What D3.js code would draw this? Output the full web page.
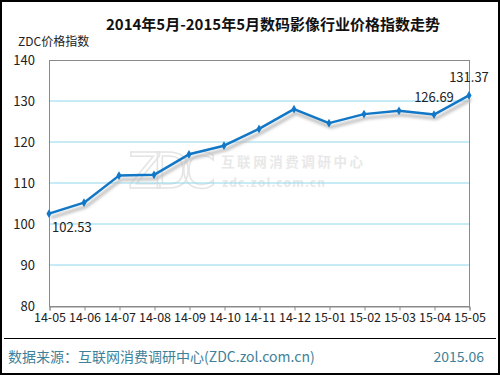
<!DOCTYPE html>
<html>
<head>
<meta charset="utf-8">
<script src="https://cdn.jsdelivr.net/npm/d3@7"></script>
<style>
  body { margin: 0; background: #fff; }
  svg { display: block; }
</style>
</head>
<body>
<div id="chart"></div>
<script>
// chart data
const months = ["14-05", "14-06", "14-07", "14-08", "14-09", "14-10", "14-11",
  "14-12", "15-01", "15-02", "15-03", "15-04", "15-05"];
const priceIndex = [102.53, 105.2, 111.8, 112.0, 117.0, 119.1, 123.2,
  128.0, 124.6, 126.8, 127.6, 126.69, 131.37];
const yTicks = [80, 90, 100, 110, 120, 130, 140];
const labelled = ["14-05", "15-04", "15-05"];

const width = 500;
const height = 375;
const margin = { top: 60, right: 31, bottom: 69, left: 49 };
const font = "'Noto Sans CJK SC', 'Noto Sans', sans-serif";

const svg = d3.select("#chart").append("svg")
  .attr("width", width)
  .attr("height", height);

svg.append("rect")
  .attr("x", 1).attr("y", 1)
  .attr("width", width - 2).attr("height", height - 2)
  .attr("fill", "#fff")
  .attr("stroke", "#000")
  .attr("stroke-width", 2);

const x = d3.scalePoint()
  .domain(months)
  .range([margin.left, width - margin.right]);

const y = d3.scaleLinear()
  .domain([80, 140])
  .range([height - margin.bottom, margin.top]);

// watermark
const wm = svg.append("g").attr("fill", "#e8e8e8");
wm.append("text")
  .attr("x", 128).attr("y", 188)
  .attr("font-family", "'DejaVu Sans', sans-serif")
  .attr("font-size", 50)
  .attr("fill", "none")
  .attr("stroke", "#e4e4e4")
  .attr("stroke-width", 1.5)
  .attr("textLength", 88)
  .text("ZDC");
wm.append("text")
  .attr("x", 221).attr("y", 167)
  .attr("font-family", font)
  .attr("font-size", 13.5)
  .attr("font-weight", "bold")
  .attr("textLength", 142)
  .text("互联网消费调研中心");
wm.append("text")
  .attr("x", 222).attr("y", 187)
  .attr("font-family", font)
  .attr("font-size", 12)
  .attr("font-weight", "bold")
  .attr("textLength", 103)
  .text("zdc.zol.com.cn");

// grid lines
svg.append("g")
  .selectAll("line")
  .data(yTicks.filter((d) => d > 80 && d < 140))
  .join("line")
  .attr("x1", margin.left)
  .attr("x2", width - margin.right)
  .attr("y1", (d) => y(d))
  .attr("y2", (d) => y(d))
  .attr("stroke", "#8fd8ec")
  .attr("stroke-width", 1);

// plot frame
svg.append("rect")
  .attr("x", margin.left + 0.5)
  .attr("y", y(140) + 0.5)
  .attr("width", x("15-05") - x("14-05"))
  .attr("height", y(80) - y(140))
  .attr("fill", "none")
  .attr("stroke", "#8a8a8a");

// x axis
const xAxis = svg.append("g")
  .attr("transform", `translate(0.5,${y(80) + 0.5})`)
  .call(d3.axisBottom(x).tickSize(4).tickPadding(3));
xAxis.select(".domain").attr("stroke", "#8a8a8a");
xAxis.selectAll(".tick line").attr("stroke", "#8a8a8a");
xAxis.selectAll("text")
  .attr("font-family", font)
  .attr("font-size", 12.5)
  .attr("fill", "#222");

// y axis labels
svg.append("g")
  .selectAll("text")
  .data(yTicks)
  .join("text")
  .attr("x", 35)
  .attr("y", (d) => y(d) + 4.5)
  .attr("text-anchor", "end")
  .attr("font-family", font)
  .attr("font-size", 13)
  .attr("fill", "#222")
  .text((d) => d);

const points = months.map((m, i) => ({ month: m, value: priceIndex[i] }));

const line = d3.line()
  .x((d) => x(d.month))
  .y((d) => y(d.value));

// soft shadow under the line
const defs = svg.append("defs");
defs.append("filter")
  .attr("id", "blur")
  .append("feGaussianBlur")
  .attr("stdDeviation", 1.5);

svg.append("path")
  .datum(points)
  .attr("fill", "none")
  .attr("stroke", "#bbbbbb")
  .attr("stroke-width", 3)
  .attr("filter", "url(#blur)")
  .attr("transform", "translate(2,4)")
  .attr("d", line);

svg.append("path")
  .datum(points)
  .attr("fill", "none")
  .attr("stroke", "#1177c6")
  .attr("stroke-width", 2.5)
  .attr("stroke-linejoin", "round")
  .attr("d", line);

svg.append("g")
  .selectAll("path")
  .data(points)
  .join("path")
  .attr("transform", (d) => `translate(${x(d.month)},${y(d.value)})`)
  .attr("d", d3.symbol(d3.symbolDiamond, 22))
  .attr("fill", "#1177c6");

// value labels
const labelPos = {
  "14-05": { dx: 3, dy: 18, anchor: "start" },
  "15-04": { dx: 0, dy: -13, anchor: "middle" },
  "15-05": { dx: 0, dy: -13, anchor: "middle" },
};
svg.append("g")
  .selectAll("text")
  .data(points.filter((d) => labelled.includes(d.month)))
  .join("text")
  .attr("x", (d) => x(d.month) + labelPos[d.month].dx)
  .attr("y", (d) => y(d.value) + labelPos[d.month].dy)
  .attr("text-anchor", (d) => labelPos[d.month].anchor)
  .attr("font-family", font)
  .attr("font-size", 13)
  .attr("fill", "#222")
  .text((d) => d.value.toFixed(2));

// titles
svg.append("text")
  .attr("x", 273).attr("y", 30)
  .attr("text-anchor", "middle")
  .attr("font-family", font)
  .attr("font-size", 15)
  .attr("font-weight", "bold")
  .attr("fill", "#111")
  .text("2014年5月-2015年5月数码影像行业价格指数走势");

svg.append("text")
  .attr("x", 18).attr("y", 46)
  .attr("font-family", font)
  .attr("font-size", 12)
  .attr("fill", "#222")
  .text("ZDC价格指数");

// footer
svg.append("line")
  .attr("x1", 4).attr("x2", width - 4)
  .attr("y1", 338.5).attr("y2", 338.5)
  .attr("stroke", "#000");

svg.append("text")
  .attr("x", 8).attr("y", 362)
  .attr("font-family", font)
  .attr("font-size", 14)
  .attr("fill", "#3f8199")
  .text("数据来源：互联网消费调研中心(ZDC.zol.com.cn)");

svg.append("text")
  .attr("x", 484).attr("y", 362)
  .attr("text-anchor", "end")
  .attr("font-family", font)
  .attr("font-size", 14)
  .attr("fill", "#3f8199")
  .text("2015.06");
</script>
</body>
</html>
